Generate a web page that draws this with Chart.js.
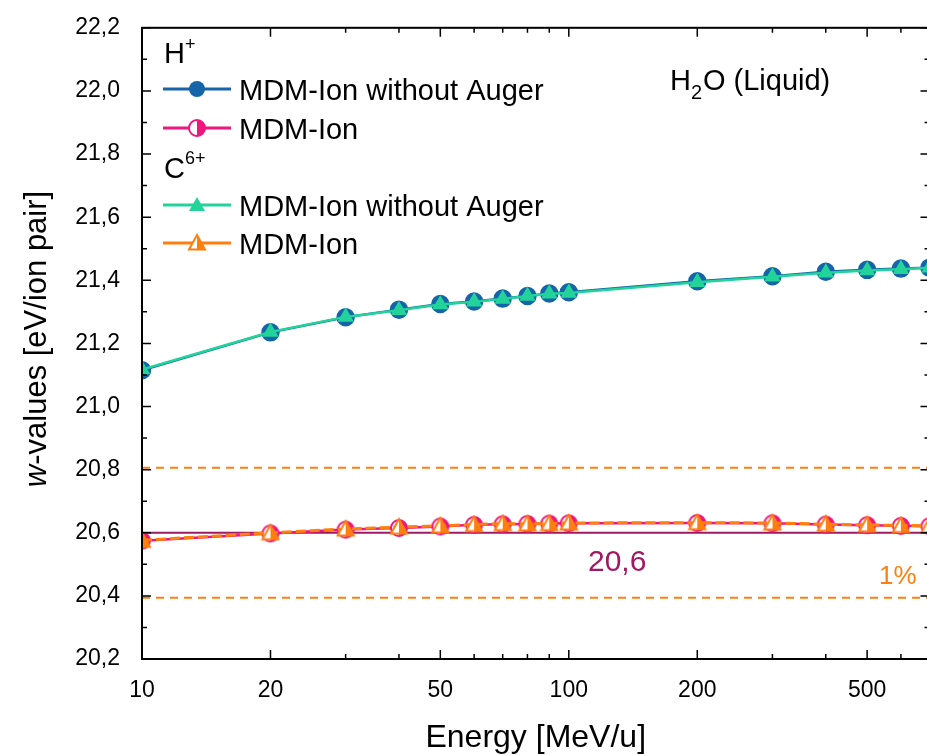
<!DOCTYPE html>
<html><head><meta charset="utf-8">
<script src="https://cdn.jsdelivr.net/npm/chart.js@4"></script>
<style>html,body{margin:0;padding:0;background:#fff;overflow:hidden}#wrap{width:940px;height:757px}</style>
</head><body><div id="wrap"><canvas id="c"></canvas></div>
<script>
const energies = [10, 20, 30, 40, 50, 60, 70, 80, 90, 100, 200, 300, 400, 500, 600, 700];
const hNoAuger = [21.115, 21.235, 21.283, 21.307, 21.325, 21.333, 21.342, 21.35, 21.358, 21.362, 21.397, 21.413, 21.427, 21.433, 21.437, 21.44];
const hMdm = [20.575, 20.598, 20.61, 20.615, 20.62, 20.625, 20.627, 20.628, 20.629, 20.63, 20.631, 20.63, 20.626, 20.624, 20.622, 20.621];
const cNoAuger = [21.117, 21.236, 21.284, 21.305, 21.323, 21.332, 21.341, 21.35, 21.357, 21.36, 21.394, 21.411, 21.424, 21.431, 21.435, 21.44];
const cMdm = [20.576, 20.6, 20.612, 20.618, 20.622, 20.626, 20.629, 20.628, 20.629, 20.631, 20.632, 20.631, 20.627, 20.625, 20.623, 20.622];
const refValue = 20.6;
const bandUpper = 20.806, bandLower = 20.394;
const xTicks = [10, 20, 50, 100, 200, 500];
const yTicks = [20.2, 20.4, 20.6, 20.8, 21.0, 21.2, 21.4, 21.6, 21.8, 22.0, 22.2];

const BLUE = '#1565a8', PINK = '#f0167c', GREEN = '#22d39a', ORANGE = '#ff7f0e', PURPLE = '#9e1a62';
const FF = '"Liberation Sans", Arial';

function halfMarker(shape, color, r) {
  const c = document.createElement('canvas');
  const s = Math.ceil(r * 2 + 4);
  c.width = s; c.height = s;
  const g = c.getContext('2d');
  const cx = s / 2, cy = s / 2;
  const path = () => {
    g.beginPath();
    if (shape === 'circle') g.arc(cx, cy, r, 0, Math.PI * 2);
    else { g.moveTo(cx, cy - r); g.lineTo(cx + r, cy + r * 0.8); g.lineTo(cx - r, cy + r * 0.8); g.closePath(); }
  };
  path(); g.fillStyle = '#fff'; g.fill();
  g.save(); path(); g.clip(); g.fillStyle = color; g.fillRect(cx, 0, s, s); g.restore();
  path(); g.lineWidth = 2; g.strokeStyle = color; g.stroke();
  return c;
}
const halfCircle = halfMarker('circle', PINK, 8);
const halfTri = halfMarker('tri', ORANGE, 8);

function pts(ys) { return energies.map((x, i) => ({ x, y: ys[i] })); }

const decor = {
  id: 'decor',
  afterDraw(chart) {
    const g = chart.ctx, a = chart.chartArea;
    const xs = chart.scales.x, ys = chart.scales.y;
    g.save();
    g.strokeStyle = '#000'; g.lineWidth = 2;
    g.strokeRect(a.left, a.top, a.right - a.left, a.bottom - a.top);
    g.lineWidth = 1.5;
    for (let v = 20.2; v <= 22.21; v += 0.1) {
      const y = ys.getPixelForValue(v);
      const major = Math.round(v * 10) % 2 === 0;
      const L = major ? 9 : 5;
      g.beginPath(); g.moveTo(a.left, y); g.lineTo(a.left + L, y);
      g.moveTo(a.right, y); g.lineTo(a.right - L, y); g.stroke();
    }
    for (let d = 10; d <= 1000; d *= 10) {
      for (let k = 1; k < 10; k++) {
        const v = d * k;
        if (v < 10 || v > 700) continue;
        const x = xs.getPixelForValue(v);
        const L = xTicks.includes(v) ? 9 : 5;
        g.beginPath(); g.moveTo(x, a.bottom); g.lineTo(x, a.bottom - L);
        g.moveTo(x, a.top); g.lineTo(x, a.top + L); g.stroke();
      }
    }
    g.fillStyle = '#000'; g.textBaseline = 'alphabetic';
    g.font = '29px ' + FF;
    g.fillText('H', 670, 90); let w = g.measureText('H').width;
    g.font = '20px ' + FF; g.fillText('2', 670 + w, 99);
    g.font = '29px ' + FF; g.fillText('O (Liquid)', 670 + w + 12, 90);
    g.fillStyle = PURPLE; g.font = '30px ' + FF; g.fillText('20,6', 588, 571);
    g.fillStyle = ORANGE; g.font = '26px ' + FF; g.fillText('1%', 879, 584);
    g.fillStyle = '#000';
    g.font = '29px ' + FF;
    g.fillText('H', 164, 63); w = g.measureText('H').width;
    g.font = '18px ' + FF; g.fillText('+', 164 + w, 50);
    g.font = '29px ' + FF;
    g.fillText('C', 164, 178); w = g.measureText('C').width;
    g.font = '18px ' + FF; g.fillText('6+', 164 + w, 164);
    const items = [
      [89, BLUE, 'circle', 'MDM-Ion without Auger'],
      [128, PINK, halfCircle, 'MDM-Ion'],
      [205, GREEN, 'triangle', 'MDM-Ion without Auger'],
      [243, ORANGE, halfTri, 'MDM-Ion']
    ];
    items.forEach(([y, col, st, label]) => {
      g.strokeStyle = col; g.lineWidth = 3;
      g.beginPath(); g.moveTo(163, y); g.lineTo(231, y); g.stroke();
      if (st === 'circle') { g.fillStyle = col; g.beginPath(); g.arc(197, y, 8, 0, Math.PI * 2); g.fill(); }
      else if (st === 'triangle') { g.fillStyle = col; g.beginPath(); g.moveTo(197, y - 8); g.lineTo(205, y + 6); g.lineTo(189, y + 6); g.closePath(); g.fill(); }
      else g.drawImage(st, 197 - st.width / 2, y - st.height / 2);
      g.fillStyle = '#000'; g.font = '29px ' + FF;
      g.fillText(label, 239, y + 11);
    });
    g.save();
    g.translate(46, 339); g.rotate(-Math.PI / 2);
    g.font = 'italic 31px ' + FF;
    const t1 = 'w', t2 = '-values [eV/ion pair]';
    const w1 = g.measureText(t1).width;
    g.font = '31px ' + FF;
    const w2 = g.measureText(t2).width;
    const x0 = -(w1 + w2) / 2;
    g.font = 'italic 31px ' + FF; g.fillText(t1, x0, 0);
    g.font = '31px ' + FF; g.fillText(t2, x0 + w1, 0);
    g.restore();
    g.restore();
  }
};

function refLine(y, color, dash, width) {
  return { data: [{ x: 10, y }, { x: 700, y }], borderColor: color, borderDash: dash, borderWidth: width, pointRadius: 0, fill: false };
}

new Chart(document.getElementById('c'), {
  type: 'line',
  data: {
    datasets: [
      { data: pts(cMdm), borderColor: ORANGE, backgroundColor: ORANGE, borderWidth: 3, borderDash: [10, 4], pointStyle: halfTri },
      { data: pts(cNoAuger), borderColor: GREEN, backgroundColor: GREEN, borderWidth: 2.5, pointStyle: 'triangle', pointRadius: 7 },
      { data: pts(hMdm), borderColor: PINK, backgroundColor: PINK, borderWidth: 2.5, pointStyle: halfCircle },
      { data: pts(hNoAuger), borderColor: BLUE, backgroundColor: BLUE, borderWidth: 2.5, pointStyle: 'circle', pointRadius: 8 },
      refLine(bandUpper, ORANGE, [8, 6], 2),
      refLine(bandLower, ORANGE, [8, 6], 2),
      refLine(refValue, PURPLE, [], 2)
    ]
  },
  options: {
    responsive: true, maintainAspectRatio: false, animation: false,
    layout: { padding: { top: 9, right: 0, left: 0, bottom: 0 } },
    plugins: { legend: { display: false }, tooltip: { enabled: false } },
    scales: {
      x: {
        type: 'logarithmic', min: 10, max: 700,
        grid: { display: false }, border: { display: false },
        afterBuildTicks: s => { s.ticks = xTicks.map(v => ({ value: v })); },
        ticks: { color: '#000', font: { size: 23, family: FF }, maxRotation: 0, autoSkip: false, padding: 10, callback: v => String(v) },
        title: { display: true, text: 'Energy [MeV/u]', color: '#000', font: { size: 32, family: FF }, padding: { top: 4, bottom: 0 } }
      },
      y: {
        min: 20.2, max: 22.2,
        grid: { display: false }, border: { display: false },
        afterBuildTicks: s => { s.ticks = yTicks.map(v => ({ value: v })); },
        afterFit: s => { s.width = 142; },
        ticks: { color: '#000', font: { size: 23, family: FF }, padding: 14, callback: v => v.toFixed(1).replace('.', ',') }
      }
    }
  },
  plugins: [decor]
});
</script></body></html>
